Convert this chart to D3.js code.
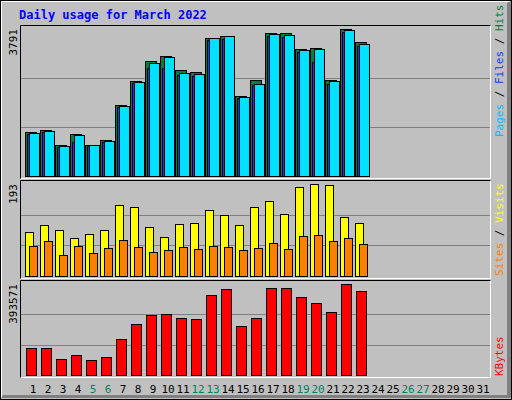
<!DOCTYPE html>
<html><head><meta charset="utf-8">
<script src="https://cdn.jsdelivr.net/npm/d3@7"></script>
<style>body{margin:0;background:#fff}</style>
</head><body><div id="container"></div>
<script>
const days = d3.range(1, 32);
const weekends = [5, 6, 12, 13, 19, 20, 26, 27];
const hits = [1126, 1178, 791, 1075, 791, 920, 1823, 2450, 2958, 3087, 2726, 2682, 3551, 3610, 2055, 2468, 3680, 3680, 3267, 3293, 2468, 3791, 3448];
const pages = [1101, 1153, 766, 1050, 792, 895, 1798, 2417, 2907, 3061, 2649, 2623, 3551, 3611, 2030, 2365, 3654, 3629, 3242, 3268, 2442, 3758, 3397];
const files = [1085, 1140, 750, 877, 780, 880, 1780, 2400, 2785, 2785, 2604, 2579, 3507, 3533, 2010, 2350, 3610, 3585, 3190, 2940, 2365, 3705, 3345];
const visits = [92, 107, 97, 80, 88, 97, 149, 145, 103, 82, 109, 111, 138, 128, 107, 145, 157, 130, 187, 193, 191, 124, 111];
const sites = [63, 73, 44, 63, 48, 59, 76, 61, 50, 55, 61, 57, 63, 61, 55, 59, 69, 57, 84, 86, 73, 80, 67];
const kbytes = [116775, 116775, 69200, 86500, 64875, 77850, 155700, 220575, 259500, 263825, 246525, 242200, 346000, 371950, 211925, 246525, 376275, 376275, 337350, 311400, 272475, 393571, 363300];

const svg = d3.select('#container').append('svg')
    .attr('width', 512).attr('height', 400)
    .style('font-family', '"DejaVu Sans Mono", monospace');

// background and bevel
svg.append('rect').attr('width', 512).attr('height', 400).attr('fill', '#c0c0c0');
svg.append('rect').attr('x', 0.5).attr('y', 0.5).attr('width', 511).attr('height', 399)
    .attr('fill', 'none').attr('stroke', '#000');
svg.append('path').attr('d', 'M1.5,398 V1.5 H510').attr('fill', 'none').attr('stroke', '#fff').attr('stroke-width', 1);
svg.append('path').attr('d', 'M507,3 V395 H3 L1,398 H511 V1 Z').attr('fill', '#808080');

svg.append('text').attr('x', 19).attr('y', 19).text('Daily usage for March 2022')
    .attr('fill', '#0000ff').style('font-size', '12px').style('font-weight', 'bold');

const x = d3.scaleBand().domain(days).range([25, 490]);

function panel(top, bottom, max, label) {
    svg.append('rect').attr('x', 20).attr('y', top).attr('width', 471).attr('height', bottom - top + 3)
        .attr('fill', '#c0c0c0');
    const y = d3.scaleLinear().domain([0, max]).range([bottom, bottom - (bottom - top - 4)]);
    [1 / 3, 2 / 3].forEach(f => {
        svg.append('line').attr('x1', 21).attr('x2', 490)
            .attr('y1', Math.round(y(max * f)) + 0.5).attr('y2', Math.round(y(max * f)) + 0.5)
            .attr('stroke', '#808080');
    });
    svg.append('path').attr('d', `M20.5,${bottom + 2.5} V${top + 0.5} H491`).attr('fill', 'none').attr('stroke', '#000');
    svg.append('path').attr('d', `M21,${bottom + 2.5} H490.5 V${top + 0.5}`).attr('fill', 'none').attr('stroke', '#fff');
    svg.append('text').attr('transform', `translate(17,${top + 4}) rotate(-90)`)
        .attr('text-anchor', 'end').style('font-size', '11px').attr('fill', '#000').text(label);
    return y;
}

function bars(data, y, color, dx, w) {
    svg.append('g').selectAll('rect').data(data).join('rect')
        .attr('x', (d, i) => x(days[i]) + dx + 0.5)
        .attr('y', d => Math.round(y(d)) + 0.5)
        .attr('width', w)
        .attr('height', d => y(0) - Math.round(y(d)))
        .attr('fill', color).attr('stroke', '#000');
}

const y1 = panel(25, 176, 3791, '3791');
bars(hits, y1, '#008040', 0, 11);
bars(files, y1, '#0040ff', 2, 10);
bars(pages, y1, '#00e0ff', 4, 10);

const y2 = panel(180, 276, 193, '193');
bars(visits, y2, '#ffff00', 0, 8);
bars(sites, y2, '#ff8000', 4, 8);

const y3 = panel(280, 375, 393571, '393571');
bars(kbytes, y3, '#ff0000', 1, 10);

svg.append('g').selectAll('text').data(days).join('text')
    .attr('x', d => x(d) + 8).attr('y', 393).attr('text-anchor', 'middle')
    .style('font-size', '11px')
    .attr('fill', d => weekends.includes(d) ? '#00805c' : '#000')
    .text(d => d);

function sideLabel(parts, yEnd) {
    const t = svg.append('text').attr('transform', `translate(503,${yEnd}) rotate(-90)`)
        .style('font-size', '11px');
    parts.forEach(p => t.append('tspan').attr('fill', p[1]).text(p[0]));
}
sideLabel([['Pages', '#00c0ff'], [' / ', '#000'], ['Files', '#0040ff'], [' / ', '#000'], ['Hits', '#008040']], 137);
sideLabel([['Sites', '#ff8000'], [' / ', '#000'], ['Visits', '#ffff00']], 276);
sideLabel([['KBytes', '#ff0000']], 376);
</script></body></html>
